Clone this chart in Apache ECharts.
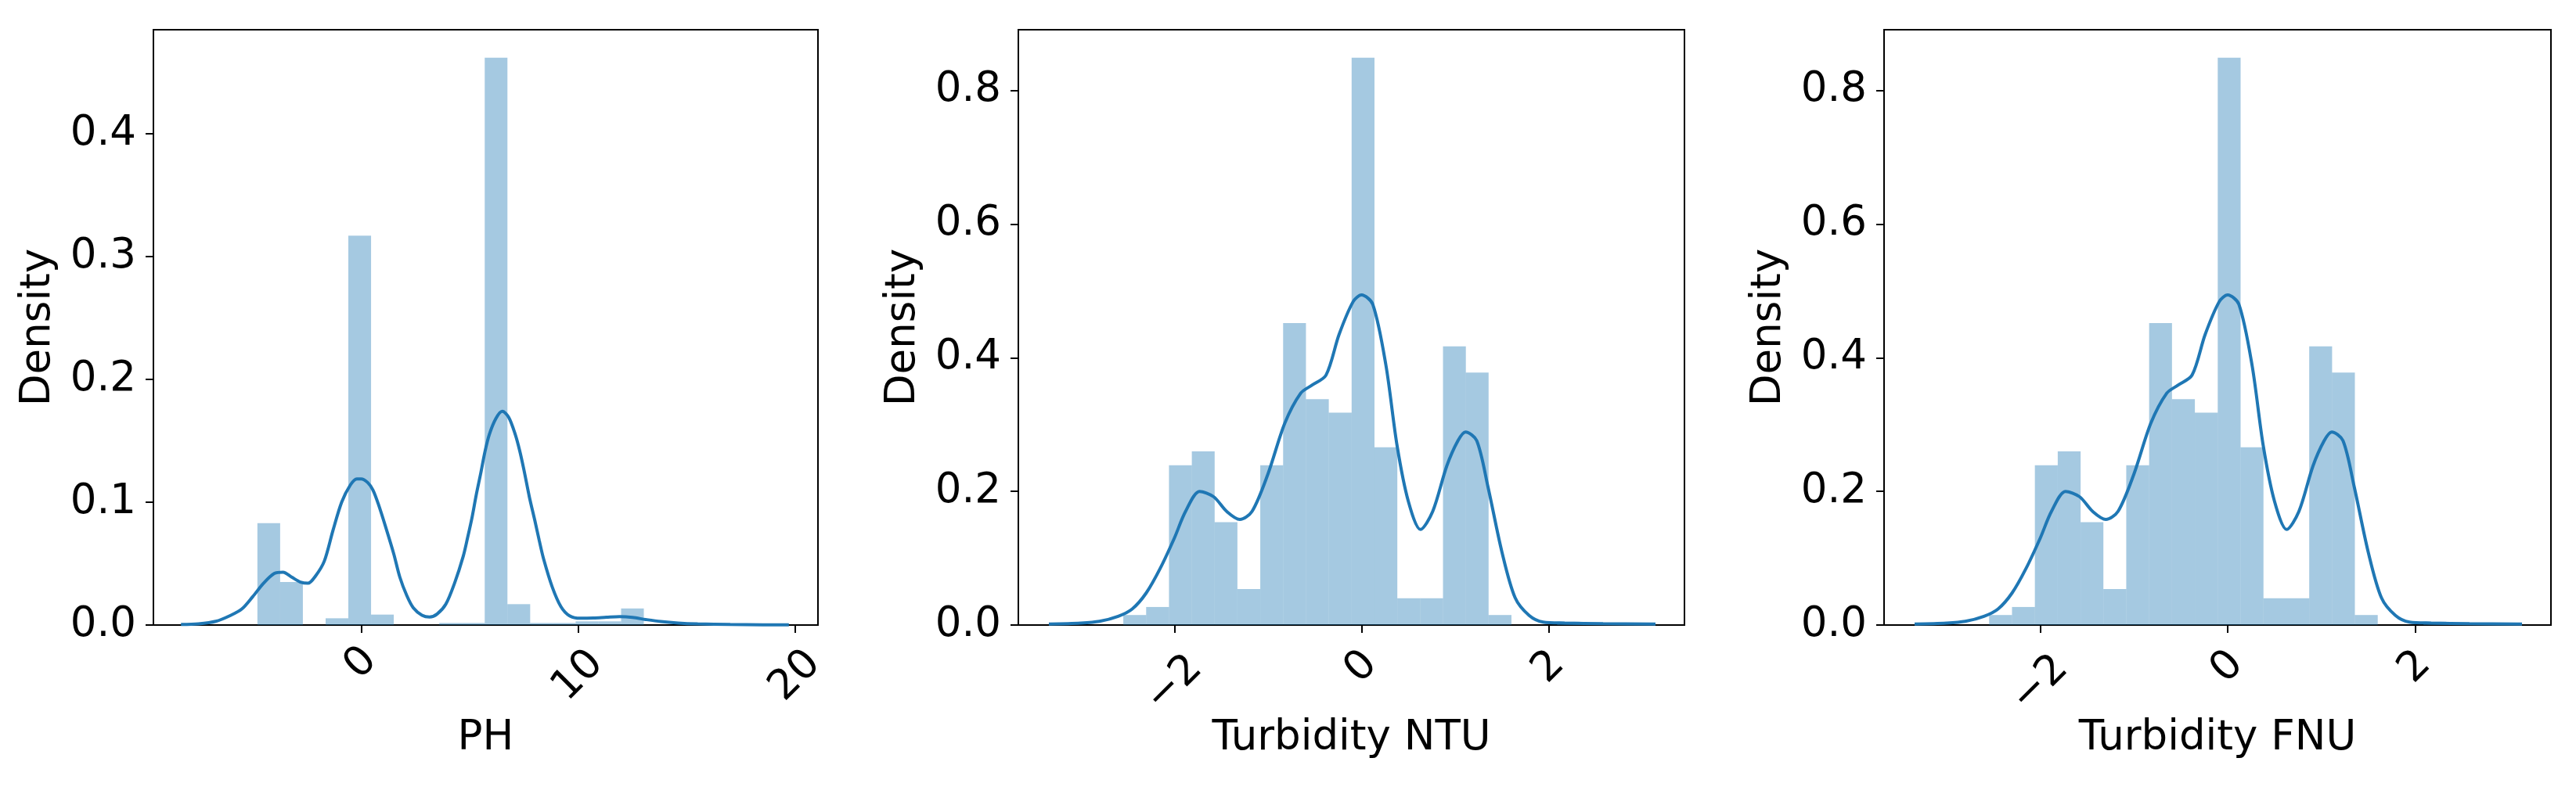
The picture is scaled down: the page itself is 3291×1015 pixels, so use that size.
<!DOCTYPE html>
<html>
<head>
<meta charset="utf-8">
<title>Density plots</title>
<script src="https://cdn.jsdelivr.net/npm/echarts@6/dist/echarts.min.js"></script>
<style>
  html, body { margin: 0; padding: 0; background: #fff; }
  #chart { width: 3291px; height: 1015px; }
</style>
</head>
<body>
<div id="chart"></div>
<script>
// ---- PH ----
const phEdges = [-4.78, -3.733, -2.686, -1.639, -0.592, 0.455, 1.502, 2.549, 3.596, 4.643,
  5.69, 6.737, 7.784, 8.831, 9.878, 10.925, 11.972, 13.019];
const phHeights = [0.083, 0.035, 0, 0.0055, 0.317, 0.0085, 0, 0, 0.0017, 0.0017,
  0.462, 0.017, 0.0017, 0.0017, 0.003, 0.003, 0.0135];
const phKdeX = [-8.3, -7.5, -6.7, -6.0, -5.5, -5.0, -4.5, -4.0, -3.6, -3.2, -2.8, -2.45, -2.1, -1.7,
  -1.3, -0.9, -0.5, -0.2, 0, 0.3, 0.54, 0.8, 1.16, 1.5, 1.78, 2.1, 2.4, 2.8, 3.15, 3.5, 3.9, 4.3,
  4.7, 4.9, 5.1, 5.3, 5.5, 5.7, 5.9, 6.2, 6.5, 6.8, 7.1, 7.3, 7.5, 7.75, 8.0, 8.2, 8.4, 8.8, 9.2,
  9.6, 10.1, 10.7, 11.3, 11.9, 12.5, 13.1, 13.8, 14.6, 15.5, 17.0, 18.5, 19.7];
const phKdeY = [0.0005, 0.001, 0.003, 0.008, 0.013, 0.023, 0.034, 0.042, 0.043, 0.039, 0.035, 0.034,
  0.040, 0.052, 0.077, 0.100, 0.114, 0.119, 0.119, 0.116, 0.110, 0.098, 0.078, 0.058, 0.039,
  0.024, 0.014, 0.008, 0.0065, 0.009, 0.017, 0.034, 0.056, 0.071, 0.087, 0.106, 0.123, 0.141,
  0.155, 0.168, 0.174, 0.169, 0.155, 0.142, 0.126, 0.104, 0.085, 0.069, 0.054, 0.031, 0.015,
  0.0075, 0.0055, 0.0057, 0.0063, 0.0068, 0.0062, 0.0045, 0.0028, 0.0016, 0.0009, 0.0004,
  0.0002, 0.0001];
const phTicksX = [0, 10, 20];
const phTicksY = [0, 0.1, 0.2, 0.3, 0.4];

// ---- Turbidity NTU ----
const ntuEdges = [-2.545, -2.301, -2.057, -1.813, -1.569, -1.326, -1.082, -0.838, -0.594, -0.350,
  -0.106, 0.138, 0.382, 0.626, 0.870, 1.114, 1.357, 1.601, 1.845, 2.089, 2.333];
const ntuHeights = [0.015, 0.027, 0.239, 0.260, 0.154, 0.054, 0.239, 0.452, 0.338, 0.318,
  0.849, 0.266, 0.040, 0.040, 0.417, 0.378, 0.015, 0, 0, 0.005];
const ntuKdeX = [-3.34, -3.0, -2.8, -2.6, -2.45, -2.3, -2.15, -2.0, -1.88, -1.73, -1.58, -1.44, -1.30,
  -1.17, -1.0, -0.82, -0.65, -0.53, -0.38, -0.24, -0.09, 0, 0.12, 0.26, 0.38, 0.5, 0.63, 0.76,
  0.91, 1.03, 1.11, 1.23, 1.35, 1.5, 1.64, 1.79, 1.94, 2.17, 2.58, 3.14];
const ntuKdeY = [0.0015, 0.003, 0.0055, 0.013, 0.024, 0.048, 0.085, 0.130, 0.170, 0.200, 0.192, 0.170,
  0.158, 0.170, 0.226, 0.302, 0.347, 0.359, 0.374, 0.435, 0.484, 0.494, 0.480, 0.389, 0.268,
  0.185, 0.143, 0.170, 0.238, 0.276, 0.289, 0.276, 0.207, 0.109, 0.041, 0.0144, 0.0045, 0.003,
  0.002, 0.0015];
const ntuTicksX = [-2, 0, 2];
const ntuTicksY = [0, 0.2, 0.4, 0.6, 0.8];

// ---- Turbidity FNU (same picture as NTU) ----
const fnuEdges = ntuEdges.slice();
const fnuHeights = ntuHeights.slice();
const fnuKdeX = ntuKdeX.slice();
const fnuKdeY = ntuKdeY.slice();
const fnuTicksX = [-2, 0, 2];
const fnuTicksY = [0, 0.2, 0.4, 0.6, 0.8];

const panels = [
  { name: 'PH', edges: phEdges, heights: phHeights, kx: phKdeX, ky: phKdeY, tx: phTicksX, ty: phTicksY,
    left: 196, width: 849, xmin: -9.57, xmax: 21.04, ymax: 0.4847, margin: 49, pad: 23 },
  { name: 'Turbidity NTU', edges: ntuEdges, heights: ntuHeights, kx: ntuKdeX, ky: ntuKdeY, tx: ntuTicksX, ty: ntuTicksY,
    left: 1301, width: 851, xmin: -3.666, xmax: 3.449, ymax: 0.891, margin: 54, pad: 30 },
  { name: 'Turbidity FNU', edges: fnuEdges, heights: fnuHeights, kx: fnuKdeX, ky: fnuKdeY, tx: fnuTicksX, ty: fnuTicksY,
    left: 2407, width: 852, xmin: -3.666, xmax: 3.449, ymax: 0.891, margin: 54, pad: 30 }
];

const FONT = 'DejaVu Sans';
const FS = 53;
const BLUE = '#1f77b4';

function renderBar(params, api) {
  const p0 = api.coord([api.value(0), api.value(2)]);
  const p1 = api.coord([api.value(1), 0]);
  return {
    type: 'rect',
    shape: { x: p0[0], y: p0[1], width: p1[0] - p0[0], height: p1[1] - p0[1] },
    style: { fill: 'rgba(31,119,180,0.4)' }
  };
}

const grid = [], xAxis = [], yAxis = [], series = [];
panels.forEach((p, i) => {
  grid.push({
    left: p.left, top: 38, width: p.width, height: 761,
    show: true, borderColor: '#000', borderWidth: 2, backgroundColor: 'transparent',
    outerBoundsMode: 'none'
  });
  xAxis.push({
    gridIndex: i, type: 'value', min: p.xmin, max: p.xmax,
    name: p.name, nameLocation: 'middle', nameGap: 119, nameMoveOverlap: false,
    nameTextStyle: { fontFamily: FONT, fontSize: FS, color: '#000' },
    axisLine: { show: true, onZero: false, lineStyle: { color: '#000', width: 2 } },
    axisTick: { show: true, length: 10, customValues: p.tx, lineStyle: { color: '#000', width: 2 } },
    splitLine: { show: false },
    axisLabel: {
      customValues: p.tx, rotate: 45, align: 'center', verticalAlign: 'middle', margin: p.margin,
      formatter: v => {
        const s = v < 0 ? '\u2212' + Math.abs(v) : String(v);
        return s.length > 1 ? '{w|' + s + '}' : '{n|' + s + '}';
      },
      rich: {
        n: { fontFamily: FONT, fontSize: FS, color: '#000' },
        w: { fontFamily: FONT, fontSize: FS, color: '#000', padding: [p.pad, p.pad, 0, 0] }
      }
    }
  });
  yAxis.push({
    gridIndex: i, type: 'value', min: 0, max: p.ymax,
    name: 'Density', nameLocation: 'middle', nameGap: 120, nameMoveOverlap: false,
    nameTextStyle: { fontFamily: FONT, fontSize: FS, color: '#000' },
    axisLine: { show: true, onZero: false, lineStyle: { color: '#000', width: 2 } },
    axisTick: { show: true, length: 10, customValues: p.ty, lineStyle: { color: '#000', width: 2 } },
    splitLine: { show: false },
    axisLabel: {
      customValues: p.ty, margin: 22, fontFamily: FONT, fontSize: FS, color: '#000',
      formatter: v => v.toFixed(1)
    }
  });
  const bars = p.heights.map((h, k) => [p.edges[k], p.edges[k + 1], h]);
  series.push({
    type: 'custom', xAxisIndex: i, yAxisIndex: i, renderItem: renderBar,
    encode: { x: [0, 1], y: 2 }, data: bars, silent: true, z: 1
  });
  series.push({
    type: 'line', xAxisIndex: i, yAxisIndex: i, data: p.kx.map((x, k) => [x, p.ky[k]]),
    showSymbol: false, smooth: 0.3, lineStyle: { color: BLUE, width: 4 }, z: 2, silent: true
  });
});

const chart = echarts.init(document.getElementById('chart'));
chart.setOption({ animation: false, backgroundColor: '#fff', grid, xAxis, yAxis, series });
</script>
</body>
</html>
